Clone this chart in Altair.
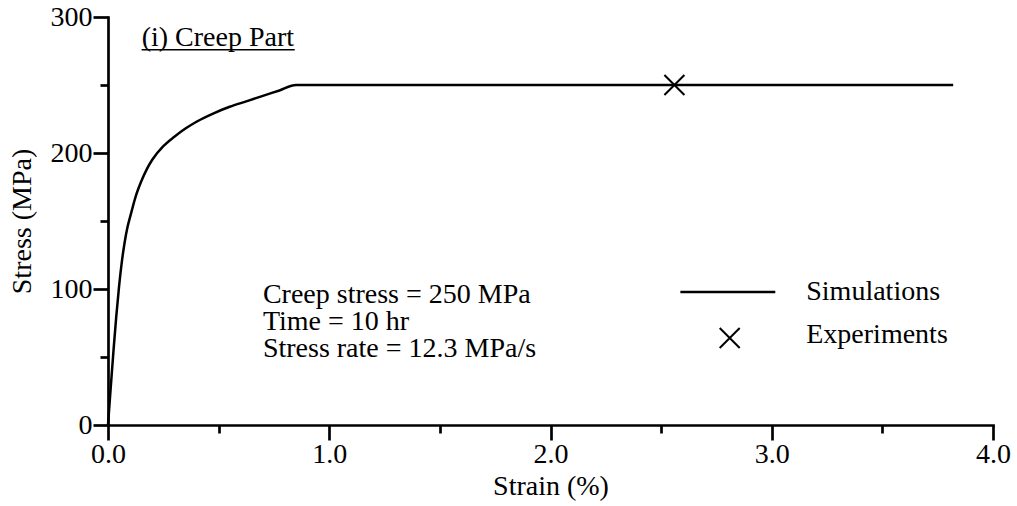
import altair as alt
import pandas as pd

# Simulation curve (strain %, stress MPa)
sim_strain = [0.0, 0.0125, 0.025, 0.0375, 0.05, 0.0625, 0.075, 0.0875, 0.10, 0.125, 0.15, 0.175,
              0.20, 0.25, 0.30, 0.35, 0.40, 0.475, 0.55, 0.625, 0.70, 0.775, 0.85, 3.82]
sim_stress = [0, 28, 55, 80, 102, 120, 134, 145, 153, 168, 179, 188,
              195, 205, 212, 218, 223, 229, 234, 238, 242, 246, 250, 250]

# Experiment point
exp_strain = [2.56]
exp_stress = [250]

# Axis ticks
x_major = [0, 1, 2, 3, 4]
x_minor = [0.5, 1.5, 2.5, 3.5]
y_major = [0, 100, 200, 300]
y_minor = [50, 150, 250]

# Annotations (data units)
note_lines = ["Creep stress = 250 MPa", "Time = 10 hr", "Stress rate = 12.3 MPa/s"]
note_x = [0.70, 0.70, 0.70]
note_y = [89.7, 69.9, 50.0]

panel_title = ["(i) Creep Part"]
panel_title_x = [0.152]
panel_title_y = [278.7]
underline_x = [0.152]
underline_x2 = [0.844]
underline_y = [276.0]

legend_labels = ["Simulations", "Experiments"]
legend_label_x = [3.156, 3.156]
legend_label_y = [97.8, 66.0]
legend_line_x = [2.587]
legend_line_x2 = [3.016]
legend_line_y = [97.8]
legend_mark_x = [2.81]
legend_mark_y = [64.0]

FONT = "Liberation Serif"
FS = 28
xs = alt.Scale(domain=[0, 4], nice=False, zero=False)
ys = alt.Scale(domain=[0, 300], nice=False, zero=False)
XPATH = "M-1,-1L1,1M1,-1L-1,1"

sim_df = pd.DataFrame({"strain": sim_strain, "stress": sim_stress})
exp_df = pd.DataFrame({"strain": exp_strain, "stress": exp_stress})

x_axis_major = alt.Axis(values=x_major, format=".1f", tickSize=15, labelPadding=0,
                        title="Strain (%)", titlePadding=4, orient="bottom")
y_axis_major = alt.Axis(values=y_major, format="d", tickSize=15, labelPadding=1,
                        title="Stress (MPa)", titlePadding=14, orient="left")
x_axis_minor = alt.Axis(values=x_minor, tickSize=8, labels=False, domain=False,
                        title=None, orient="bottom")
y_axis_minor = alt.Axis(values=y_minor, tickSize=8, labels=False, domain=False,
                        title=None, orient="left")

line = alt.Chart(sim_df).mark_line(color="black", strokeWidth=2.5, interpolate="monotone").encode(
    x=alt.X("strain:Q", scale=xs, axis=x_axis_major),
    y=alt.Y("stress:Q", scale=ys, axis=y_axis_major),
)

exp_pt = alt.Chart(exp_df).mark_point(shape=XPATH, size=400, filled=False,
                                       color="black", strokeWidth=2, opacity=1).encode(
    x=alt.X("strain:Q", scale=xs, axis=x_axis_minor),
    y=alt.Y("stress:Q", scale=ys, axis=y_axis_minor),
)

notes = alt.Chart(pd.DataFrame({"t": note_lines, "x": note_x, "y": note_y})).mark_text(
    font=FONT, fontSize=FS, align="left", baseline="alphabetic", color="black").encode(
    x=alt.X("x:Q", scale=xs, axis=None), y=alt.Y("y:Q", scale=ys, axis=None), text="t:N")

ptitle = alt.Chart(pd.DataFrame({"t": panel_title, "x": panel_title_x, "y": panel_title_y})).mark_text(
    font=FONT, fontSize=FS, align="left", baseline="alphabetic", color="black").encode(
    x=alt.X("x:Q", scale=xs, axis=None), y=alt.Y("y:Q", scale=ys, axis=None), text="t:N")

uline = alt.Chart(pd.DataFrame({"x": underline_x, "x2": underline_x2, "y": underline_y})).mark_rule(
    color="black", strokeWidth=1.5).encode(
    x=alt.X("x:Q", scale=xs, axis=None), x2="x2:Q", y=alt.Y("y:Q", scale=ys, axis=None))

leg_text = alt.Chart(pd.DataFrame({"t": legend_labels, "x": legend_label_x, "y": legend_label_y})).mark_text(
    font=FONT, fontSize=FS, align="left", baseline="middle", color="black").encode(
    x=alt.X("x:Q", scale=xs, axis=None), y=alt.Y("y:Q", scale=ys, axis=None), text="t:N")

leg_line = alt.Chart(pd.DataFrame({"x": legend_line_x, "x2": legend_line_x2, "y": legend_line_y})).mark_rule(
    color="black", strokeWidth=2.5).encode(
    x=alt.X("x:Q", scale=xs, axis=None), x2="x2:Q", y=alt.Y("y:Q", scale=ys, axis=None))

leg_mark = alt.Chart(pd.DataFrame({"x": legend_mark_x, "y": legend_mark_y})).mark_point(
    shape=XPATH, size=400, filled=False, color="black", strokeWidth=2, opacity=1).encode(
    x=alt.X("x:Q", scale=xs, axis=None), y=alt.Y("y:Q", scale=ys, axis=None))

chart = alt.layer(line, exp_pt, notes, ptitle, uline, leg_text, leg_line, leg_mark).resolve_axis(
    x="independent", y="independent"
).properties(
    width=885, height=408,
    autosize=alt.AutoSizeParams(type="none"),
    padding={"left": 108, "top": 17, "right": 24, "bottom": 81},
    background="white",
).configure_view(stroke=None).configure_axis(
    grid=False, labelFont=FONT, titleFont=FONT, labelFontSize=FS, titleFontSize=FS,
    titleFontWeight="normal", labelColor="black", titleColor="black",
    domainColor="black", tickColor="black", domainWidth=2.7, tickWidth=2.7,
    labelFlush=False, labelOverlap=False, domainCap="square",
)

chart.save("out.html", embed_options={"renderer": "svg", "actions": False})
